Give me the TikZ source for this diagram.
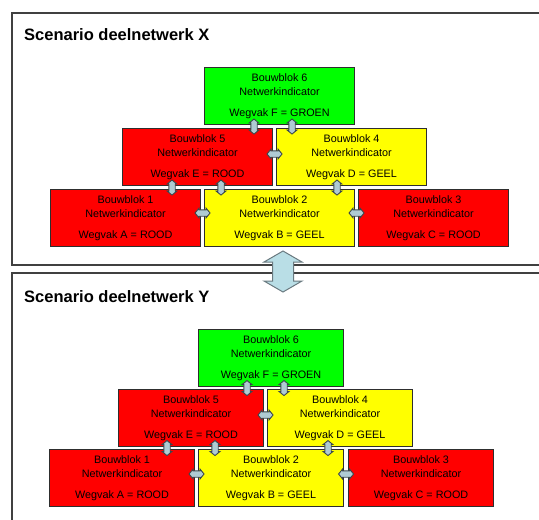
\documentclass[tikz,border=0pt]{standalone}
\usepackage{fontspec}
\setmainfont{Liberation Sans}
\usetikzlibrary{calc}
\definecolor{panelgray}{HTML}{404040}
\definecolor{edgegray}{HTML}{2E2E2E}
\definecolor{linkfill}{HTML}{AFCBD3}
\definecolor{linkedge}{HTML}{3A474C}
\definecolor{bigfill}{HTML}{B9DEE6}
\definecolor{bigedge}{HTML}{6A7A80}
\definecolor{rood}{HTML}{FF0000}
\definecolor{geel}{HTML}{FFFF00}
\definecolor{groen}{HTML}{00FF00}
% vertical link between two stacked blocks, centred at the gap
\newcommand\vlinkat[3]{\pic at ($(#1.south -| #3,0)!.5!(#2.north -| #3,0)$) {linkpic};}
% horizontal link between two neighbouring blocks
\newcommand\hlinkat[3]{\pic[rotate=90] at ($(#1.east |- 0,#3)!.5!(#2.west |- 0,#3)$) {linkpic};}
\newcommand\blocktext[2]{Bouwblok #1\\Netwerkindicator\\[7pt]#2}
\begin{document}
\begin{tikzpicture}[x=1pt,y=-1pt,
  panel/.style={draw=panelgray, line width=1.4pt},
  title/.style={anchor=base west, inner sep=0pt, font=\fontsize{16.5}{18}\selectfont\bfseries},
  block/.style={draw=edgegray, line width=1.1pt, anchor=north west,
    minimum height=57pt, inner sep=0pt, align=center,
    font=\fontsize{10.8}{14}\selectfont},
  wideblock/.style={block, minimum width=150pt},
  narrowblock/.style={block, minimum width=145pt},
  link/.style={draw=linkedge, fill=linkfill, line width=0.9pt, line join=miter},
  linkpic/.pic={\draw[link] (0,-7.5) -- (4.8,-3.6) -- (3.2,-3.6) -- (3.2,3.6) -- (4.8,3.6)
      -- (0,7.5) -- (-4.8,3.6) -- (-3.2,3.6) -- (-3.2,-3.6) -- (-4.8,-3.6) -- cycle;},
  bigarrow/.style={draw=bigedge, fill=bigfill, line width=1pt, line join=miter}
]
\useasboundingbox (0,0) rectangle (539,520);
\clip (0,0) rectangle (539,520);

% ---------------- scenario X ----------------
\draw[panel] (12,13) rectangle (580,265);
\node[title] (tx) at (24,40) {Scenario deelnetwerk X};

\node[wideblock, fill=groen] (x6) at (204,67)  {\blocktext{6}{Wegvak F = GROEN}};
\node[wideblock, fill=rood]  (x5) at (122,128) {\blocktext{5}{Wegvak E = ROOD}};
\node[wideblock, fill=geel]  (x4) at (276,128) {\blocktext{4}{Wegvak D = GEEL}};
\node[wideblock, fill=rood]  (x1) at (50,189)  {\blocktext{1}{Wegvak A = ROOD}};
\node[wideblock, fill=geel]  (x2) at (204,189) {\blocktext{2}{Wegvak B = GEEL}};
\node[wideblock, fill=rood]  (x3) at (358,189) {\blocktext{3}{Wegvak C = ROOD}};

\vlinkat{x6}{x5}{254}
\vlinkat{x6}{x4}{292}
\hlinkat{x5}{x4}{154}
\vlinkat{x5}{x1}{172}
\vlinkat{x5}{x2}{221}
\vlinkat{x4}{x2}{337}
\hlinkat{x1}{x2}{213}
\hlinkat{x2}{x3}{213}

% ---------------- scenario Y ----------------
\draw[panel] (12,273) rectangle (580,560);
\node[title] (ty) at (24,302) {Scenario deelnetwerk Y};

\node[narrowblock, fill=groen] (y6) at (198,329) {\blocktext{6}{Wegvak F = GROEN}};
\node[narrowblock, fill=rood]  (y5) at (118,389) {\blocktext{5}{Wegvak E = ROOD}};
\node[narrowblock, fill=geel]  (y4) at (267,389) {\blocktext{4}{Wegvak D = GEEL}};
\node[narrowblock, fill=rood]  (y1) at (49,449)  {\blocktext{1}{Wegvak A = ROOD}};
\node[narrowblock, fill=geel]  (y2) at (198,449) {\blocktext{2}{Wegvak B = GEEL}};
\node[narrowblock, fill=rood]  (y3) at (348,449) {\blocktext{3}{Wegvak C = ROOD}};

\vlinkat{y6}{y5}{247}
\vlinkat{y6}{y4}{284}
\hlinkat{y5}{y4}{415}
\vlinkat{y5}{y1}{167}
\vlinkat{y5}{y2}{215}
\vlinkat{y4}{y2}{328}
\hlinkat{y1}{y2}{474}
\hlinkat{y2}{y3}{474}

% ---------------- link between the two scenarios ----------------
\coordinate (up)   at (283,251);
\coordinate (down) at (283,292);
\draw[bigarrow] (up) -- ++(19,11) -- ++(-8.5,0) -- ++(0,19) -- ++(8.5,0) -- (down)
  -- ++(-19,-11) -- ++(8.5,0) -- ++(0,-19) -- ++(-8.5,0) -- cycle;
\end{tikzpicture}
\end{document}
